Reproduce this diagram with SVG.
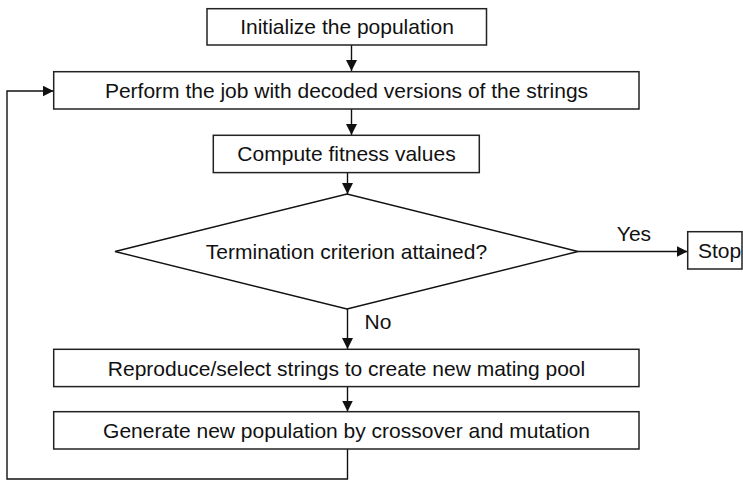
<svg xmlns="http://www.w3.org/2000/svg" width="743" height="481" viewBox="0 0 743 481">
<style>
.box{fill:#fff;stroke:#222;stroke-width:1.5}
.ln{fill:none;stroke:#111;stroke-width:1.4}
.t{font-family:"Liberation Sans",Arial,Helvetica,sans-serif;font-size:21px;fill:#111;text-anchor:middle}
</style>
<defs>
<marker id="ah" viewBox="0 0 10 10" refX="10" refY="5" markerWidth="11" markerHeight="11" markerUnits="userSpaceOnUse" orient="auto">
<path d="M0,0 L10,5 L0,10 Z" fill="#111"/>
</marker>
</defs>
<g id="connectors">
<line class="ln" x1="351.5" y1="45" x2="351.5" y2="71" marker-end="url(#ah)"/>
<line class="ln" x1="351.5" y1="109" x2="351.5" y2="135" marker-end="url(#ah)"/>
<line class="ln" x1="347.5" y1="172.5" x2="347.5" y2="194" marker-end="url(#ah)"/>
<line class="ln" x1="578" y1="251.5" x2="687.5" y2="251.5" marker-end="url(#ah)"/>
<line class="ln" x1="347.5" y1="309" x2="347.5" y2="349" marker-end="url(#ah)"/>
<line class="ln" x1="347.5" y1="387" x2="347.5" y2="411.5" marker-end="url(#ah)"/>
<polyline class="ln" points="347.5,449 347.5,479 7,479 7,91 53.5,91" marker-end="url(#ah)"/>
<text class="t" x="634" y="241">Yes</text>
<text class="t" x="378" y="329">No</text>
</g>
<g id="init">
<rect class="box" x="207" y="8.7" width="279.5" height="36.3"/>
<text class="t" x="347" y="34">Initialize the population</text>
</g>
<g id="perform">
<rect class="box" x="53.7" y="71.7" width="585.3" height="37.3"/>
<text class="t" x="346.5" y="98">Perform the job with decoded versions of the strings</text>
</g>
<g id="fitness">
<rect class="box" x="213.3" y="135.3" width="266" height="37.3"/>
<text class="t" x="346.5" y="161">Compute fitness values</text>
</g>
<g id="decision">
<polygon class="ln" points="115,251.5 347,194 578,251.5 347,309"/>
<text class="t" x="346.5" y="258.5">Termination criterion attained?</text>
</g>
<g id="stop">
<rect class="box" x="687.7" y="231.7" width="54.3" height="37.3"/>
<text class="t" x="719.5" y="258">Stop</text>
</g>
<g id="reproduce">
<rect class="box" x="53.7" y="349.3" width="585.3" height="37.3"/>
<text class="t" x="346.5" y="375.5">Reproduce/select strings to create new mating pool</text>
</g>
<g id="generate">
<rect class="box" x="53.7" y="411.7" width="585.3" height="37.3"/>
<text class="t" x="346.5" y="438">Generate new population by crossover and mutation</text>
</g>
</svg>
